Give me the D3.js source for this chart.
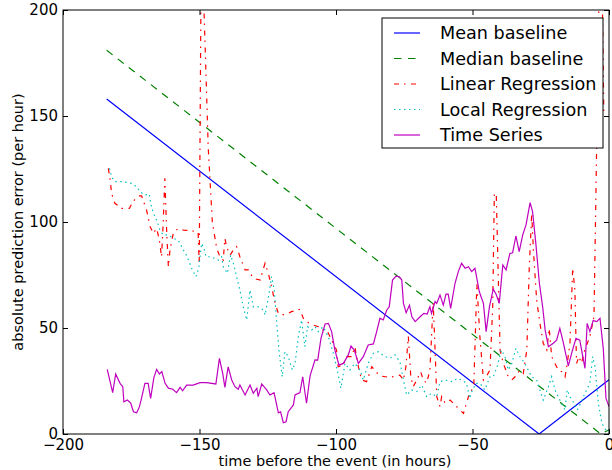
<!DOCTYPE html>
<html>
<head>
<meta charset="utf-8">
<script src="https://cdn.jsdelivr.net/npm/d3@7"></script>
<style>
  body { margin: 0; background: #fff; }
  svg { font-family: "DejaVu Sans", sans-serif; }
</style>
</head>
<body>
<script>
// values: [hours before event, abs error per hour]
const meanBaseline = [[-184, 158], [-25.6, 0], [0, 25.6]];
const medianBaseline = [[-184, 181], [-3, 0], [0, 2]];

const linearRegression = [
  [-183.4,125.3],[-182.8,120.6],[-182.2,113.5],[-181,108.8],[-178.5,106.4],[-175.7,106.4],[-174.2,109.9],
  [-172.4,112.3],[-171.2,112.3],[-169.4,105.7],[-168.1,97.8],[-166.9,94.7],[-165.7,97],[-164.7,91.5],
  [-163.9,83.6],[-163.3,99.4],[-162.7,120.6],[-162,94.7],[-161.4,78.9],[-160.8,86.8],[-159.6,94.7],
  [-157.8,97],[-155.9,96.2],[-153.5,95.9],[-150.5,95.4],[-150.1,80],[-149.3,240],[-146.8,135],
  [-145.3,100],[-143.7,87.6],[-142.5,83.6],[-141.3,82],[-140.7,92.3],[-140.1,88.4],[-138.8,84.4],
  [-137.6,86.8],[-136.4,88.4],[-135.2,83.6],[-133.3,77.4],[-132.1,77.4],[-130.3,73.4],[-127.8,72.6],
  [-126,80.5],[-124.8,75.8],[-123.6,69.5],[-122.3,61.6],[-121.1,56.9],[-118.7,56.1],[-116.3,57.7],
  [-113.2,58.8],[-112,54.6],[-110.1,52.5],[-108.3,51.4],[-106.5,50.6],[-105.3,49.1],[-103.4,49.1],
  [-101.6,44.3],[-99.8,39.6],[-99.2,31.7],[-97.3,32.5],[-96.1,36.5],[-94.3,36.5],[-93.1,41.2],
  [-91.8,31.7],[-90.6,25.5],[-88.8,24.7],[-86.9,31.7],[-84,27.4],[-80.2,26.7],[-76.6,27.8],
  [-75.3,25.5],[-74.4,31.7],[-73.5,46],[-72.6,27],[-71.7,22.3],[-70.4,25.5],[-69,29.4],[-68,25.5],
  [-66.8,23.9],[-65.6,30.2],[-64.4,62],[-63.7,39.6],[-63.1,17.6],[-61.9,12.9],[-61.3,17.6],[-60,14.5],
  [-58.2,16],[-55.8,12.9],[-53.3,9.7],[-51.5,17.6],[-50.3,20.8],[-49.5,23.9],[-48.4,71.1],[-47.3,45.9],
  [-46,25.5],[-45,27],[-43.6,30.2],[-42.6,60],[-42,113.5],[-41.3,113.5],[-40.5,71.1],[-39.9,39.6],
  [-38.7,33.3],[-36.9,27],[-35.6,25.5],[-34.4,27],[-32.6,30.2],[-31.4,28.6],[-30.1,39.6],[-29.2,78.9],
  [-28.3,104.1],[-27.7,86.8],[-26.5,63.2],[-25.3,52.2],[-24.1,42.8],[-22.8,39.6],[-21.9,49.8],
  [-21,36.5],[-19.8,33.3],[-18.6,30.2],[-17.3,29.4],[-16.1,27],[-15.3,33.3],[-14.3,42.8],[-13.3,78.2],
  [-12.5,67.9],[-11.9,33.3],[-11,36.5],[-10.1,33.3],[-8.9,39.6],[-7,45.9],[-6,52.2],[-5.5,55.3],
  [-3,260],[-1.9,151]
];

const localRegression = [
  [-183,125.3],[-182.2,121.4],[-181,119],[-177.9,119],[-174.9,118.2],[-173,116.6],[-171.8,114.3],
  [-170,112.7],[-168.4,113.2],[-167.9,108.8],[-166.9,104.1],[-165.9,101.7],[-164.5,96.2],[-163.3,93.9],
  [-161.4,93.9],[-159.6,92.3],[-157.8,91.5],[-155.9,86.8],[-154.5,83.6],[-152.9,78.2],[-151.3,74.2],
  [-150.3,78.2],[-149.2,89.9],[-148.4,87.6],[-147.6,83.6],[-146.2,83.6],[-144.3,82.8],[-143.1,82],
  [-141.9,83.6],[-141.3,78.9],[-139.8,75.8],[-138.6,84.4],[-137.6,80.5],[-136.4,74.2],[-135.2,67.9],
  [-134,60],[-132.7,53.8],[-131.5,67.9],[-130.3,60],[-128.5,60],[-126.6,58.5],[-126,56.1],[-124.8,64],
  [-123.6,74.2],[-122.6,67.9],[-121.8,53.8],[-120.9,39.6],[-119.7,27],[-118.7,38.8],[-117.5,36.5],
  [-116,30.2],[-115,33.3],[-113.8,45.9],[-112.6,53.8],[-111.4,41.2],[-110.4,50.6],[-108.9,49.1],
  [-107.7,50.6],[-106.5,48.3],[-104.7,50.6],[-102.8,45.9],[-101,38.1],[-99.8,31.7],[-98.2,21.6],
  [-96.7,33.3],[-94.9,30.2],[-93.1,33.3],[-91.2,30.2],[-90,25.5],[-88.2,33.3],[-86.3,38.1],[-84.5,38.8],
  [-82,36.5],[-80.2,35.7],[-78.4,37.3],[-76.6,34.1],[-75.3,25.5],[-74.1,18.4],[-72.3,20.8],[-70.4,20],
  [-68.6,23.1],[-66.8,17.6],[-65,19.2],[-63.1,17.6],[-61.9,24.7],[-60,25.5],[-57.7,24.7],[-55.6,26.2],
  [-54,25.5],[-52.2,23.9],[-51,16.8],[-50,20.8],[-48.7,23.9],[-47.3,23.9],[-45.5,20.8],[-43.6,27],
  [-42.4,27],[-41,31.7],[-39.4,39.6],[-38.1,36.5],[-36.9,30.2],[-35.6,33.3],[-34.1,40.4],[-32.6,36.5],
  [-30.8,33.3],[-29.6,30.2],[-28.3,27],[-26.5,25.5],[-24.1,16],[-22.2,22.3],[-21,27],[-19.8,20.8],
  [-18,16],[-16.1,11.3],[-15.3,20.8],[-14.3,17.6],[-12.8,14.5],[-11.6,11.3],[-10.4,14.5],[-8.8,19.2],
  [-7,23.9],[-6,36.5],[-5.1,31.7],[-3.9,14.5],[-2.6,5],[-0.8,1.1],[0,1.9]
];

const timeSeries = [
  [-183.8,30.5],[-181.8,19.5],[-180.7,28.3],[-179.1,23.9],[-178.1,22.3],[-177.7,15.2],[-176.4,16],
  [-175.2,14.6],[-174.2,10.5],[-173,10],[-172,12.9],[-171.2,17],[-170,23.9],[-168.8,23.9],[-167.9,16.8],
  [-166.7,26.7],[-165.7,30.5],[-164.7,28.3],[-163.8,29.4],[-162.6,23.9],[-161.4,21.6],[-159.8,21.1],
  [-158.4,19.5],[-157.1,22],[-156.2,20.4],[-154.7,23.1],[-152.3,23.1],[-149.8,24.2],[-147.4,24.2],
  [-144,23.6],[-142.7,35.7],[-141.5,28.6],[-140.7,22],[-139.5,31.7],[-138.2,25.5],[-137,22.3],
  [-135.8,21.1],[-135.2,23.1],[-133.3,18.4],[-131.5,23.1],[-130.3,19.2],[-129,21.6],[-128.5,17.6],
  [-127.2,23.6],[-125.4,20.8],[-124.2,18.4],[-122.7,19.5],[-121.1,10],[-120.3,10.5],[-119.3,5.3],
  [-118.3,5.8],[-117.5,10.5],[-115.6,13.7],[-115,18.4],[-113.2,19.5],[-112.2,27],[-110.8,14.5],
  [-109.5,27.4],[-107.7,35],[-106.7,34.9],[-105.5,45.1],[-104,51.9],[-102.8,52.2],[-101.6,48.3],
  [-100.4,39.6],[-98.9,32.5],[-97.3,33.3],[-95.5,37.3],[-94.5,41.5],[-93.3,39.6],[-91.8,33.3],
  [-90,36.5],[-88.2,42],[-86.3,42.5],[-85.1,48.3],[-83.9,54.6],[-82.7,53.8],[-81.4,58.5],[-80.5,60],
  [-79.3,72.6],[-78,74.5],[-76.8,74.2],[-75.9,72.6],[-75.3,61.6],[-74.3,57.2],[-73.1,60.8],[-72.2,55.3],
  [-71,53],[-69.2,55.3],[-67.8,56.9],[-66.6,56.6],[-65.6,60],[-65,56.9],[-63.7,62.5],[-63.1,61.6],
  [-61.9,65.6],[-60.7,60.8],[-59.7,66],[-58.9,66],[-58,59.3],[-56.4,71.1],[-55.2,76.6],[-54,80.5],
  [-52.7,78.2],[-51.5,78.9],[-50.3,76.6],[-49.1,78.2],[-47.5,67.1],[-46,61.6],[-45,48.3],[-43.8,60],
  [-42.4,68.3],[-41.4,66],[-40.2,61.6],[-38.9,79.7],[-37.7,77.4],[-36.3,85.2],[-35.3,85.5],[-34.1,93.4],
  [-32.9,86],[-31.6,93.9],[-30.4,98.6],[-28.9,109.1],[-28,104.9],[-26.8,89.9],[-25.5,71.1],[-24.3,60],
  [-23.4,49.1],[-22.2,41.2],[-20.4,42.8],[-19.2,44.3],[-18,49.8],[-16.8,43.5],[-14.9,32.1],[-13.7,38],
  [-12.1,45.1],[-10.7,44.3],[-8.8,31],[-8,52.2],[-7,48.3],[-5.8,53.5],[-4.5,53],[-3.3,54.6],
  [-2.1,40.4],[-1.1,16.8],[0,12.9]
];

const xTicks = [-200, -150, -100, -50, 0];
const yTicks = [0, 50, 100, 150, 200];

const series = [
  {name: "Mean baseline", data: meanBaseline, color: "#0000ff", dash: null},
  {name: "Median baseline", data: medianBaseline, color: "#008000", dash: "7.5,6.5"},
  {name: "Linear Regression", data: linearRegression, color: "#ff0000", dash: "5,5,1.5,5.5"},
  {name: "Local Regression", data: localRegression, color: "#00bfbf", dash: "1.5,3.5"},
  {name: "Time Series", data: timeSeries, color: "#bf00bf", dash: null}
];

const width = 612, height = 470;
const margin = {top: 10, right: 3, bottom: 36, left: 63};
const innerW = width - margin.left - margin.right;
const innerH = height - margin.top - margin.bottom;

const svg = d3.select("body").append("svg")
    .attr("width", width)
    .attr("height", height);

const g = svg.append("g")
    .attr("transform", `translate(${margin.left},${margin.top})`);

const x = d3.scaleLinear().domain([-200, 0]).range([0, innerW]);
const y = d3.scaleLinear().domain([0, 200]).range([innerH, 0]);

g.append("clipPath").attr("id", "clip")
  .append("rect").attr("width", innerW).attr("height", innerH);

const line = d3.line().x(d => x(d[0])).y(d => y(d[1]));

g.append("g").attr("clip-path", "url(#clip)")
  .selectAll("path")
  .data(series)
  .enter().append("path")
    .attr("d", d => line(d.data))
    .attr("fill", "none")
    .attr("stroke", d => d.color)
    .attr("stroke-width", 1.2)
    .attr("stroke-dasharray", d => d.dash);

// axes, matplotlib style: ticks pointing inward on all four sides
const fmt = d => d < 0 ? "\u2212" + Math.abs(d) : String(d);

const xAxis = g.append("g").attr("transform", `translate(0,${innerH})`)
    .call(d3.axisBottom(x).tickValues(xTicks).tickSizeInner(-5).tickSizeOuter(0).tickPadding(5).tickFormat(fmt));
const xTop = g.append("g")
    .call(d3.axisTop(x).tickValues(xTicks).tickSizeInner(-5).tickSizeOuter(0).tickFormat(""));
const yAxis = g.append("g")
    .call(d3.axisLeft(y).tickValues(yTicks).tickSizeInner(-5).tickSizeOuter(0).tickPadding(5).tickFormat(fmt));
const yRight = g.append("g").attr("transform", `translate(${innerW},0)`)
    .call(d3.axisRight(y).tickValues(yTicks).tickSizeInner(-5).tickSizeOuter(0).tickFormat(""));

[xAxis, xTop, yAxis, yRight].forEach(a => {
  a.select(".domain").remove();
  a.selectAll("line").attr("stroke", "#000");
  a.selectAll("text").attr("font-size", 15).attr("fill", "#000").attr("font-family", "DejaVu Sans");
});

g.append("rect")
    .attr("width", innerW).attr("height", innerH)
    .attr("fill", "none").attr("stroke", "#000").attr("stroke-width", 1);

svg.append("text")
    .attr("x", margin.left + innerW / 2 - 1)
    .attr("y", 466)
    .attr("text-anchor", "middle")
    .attr("font-size", 14.5)
    .text("time before the event (in hours)");

svg.append("text")
    .attr("transform", `translate(23,${margin.top + innerH / 2}) rotate(-90)`)
    .attr("text-anchor", "middle")
    .attr("font-size", 14.5)
    .text("absolute prediction error (per hour)");

// legend
const legend = svg.append("g").attr("transform", "translate(382,18)");
legend.append("rect")
    .attr("width", 221).attr("height", 130)
    .attr("fill", "#fff").attr("stroke", "#000").attr("stroke-width", 1);

const item = legend.selectAll(".item")
    .data(series)
    .enter().append("g")
    .attr("class", "item")
    .attr("transform", (d, i) => `translate(0,${15 + i * 25.5})`);

item.append("line")
    .attr("x1", 12).attr("x2", 38)
    .attr("stroke", d => d.color)
    .attr("stroke-width", 1.2)
    .attr("stroke-dasharray", d => d.dash);

item.append("text")
    .attr("x", 58).attr("y", 6)
    .attr("font-size", 17.6)
    .text(d => d.name);
</script>
</body>
</html>
